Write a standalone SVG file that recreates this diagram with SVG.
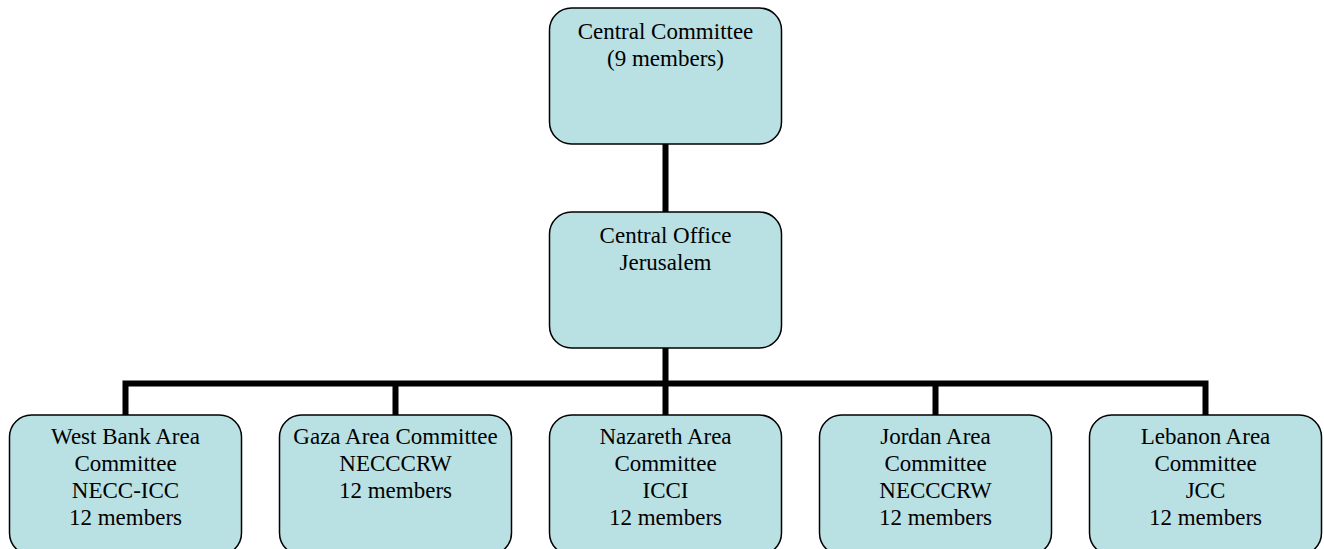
<svg xmlns="http://www.w3.org/2000/svg" width="1324" height="549" viewBox="0 0 1324 549">
<style>
.box{fill:#B9E0E3;stroke:#000;stroke-width:1.5}
.t{font-family:"Liberation Serif","Times New Roman",serif;font-size:23px;fill:#000;text-anchor:middle}
.c{fill:none;stroke:#000;stroke-width:6;stroke-linecap:butt;stroke-linejoin:miter}
</style>
<rect width="1324" height="549" fill="#fff"/>
<g id="connectors">
<path class="c" d="M665.5 144V212M665.5 348V383.5M125.5 415V383.5H1205.5V415M395.5 383.5V415M665.5 383.5V415M935.5 383.5V415"/>
</g>
<g id="central-committee">
<rect class="box" x="549.5" y="8" width="232" height="136" rx="22"/>
<text class="t" x="665.5" y="39">Central Committee</text>
<text class="t" x="665.5" y="66">(9 members)</text>
</g>
<g id="central-office">
<rect class="box" x="549.5" y="212" width="232" height="136" rx="22"/>
<text class="t" x="665.5" y="243">Central Office</text>
<text class="t" x="665.5" y="270">Jerusalem</text>
</g>
<g id="west-bank">
<rect class="box" x="9.5" y="415" width="232" height="140" rx="22"/>
<text class="t" x="125.5" y="444">West Bank Area</text>
<text class="t" x="125.5" y="471">Committee</text>
<text class="t" x="125.5" y="498">NECC-ICC</text>
<text class="t" x="125.5" y="525">12 members</text>
</g>
<g id="gaza">
<rect class="box" x="279.5" y="415" width="232" height="140" rx="22"/>
<text class="t" x="395.5" y="444">Gaza Area Committee</text>
<text class="t" x="395.5" y="471">NECCCRW</text>
<text class="t" x="395.5" y="498">12 members</text>
</g>
<g id="nazareth">
<rect class="box" x="549.5" y="415" width="232" height="140" rx="22"/>
<text class="t" x="665.5" y="444">Nazareth Area</text>
<text class="t" x="665.5" y="471">Committee</text>
<text class="t" x="665.5" y="498">ICCI</text>
<text class="t" x="665.5" y="525">12 members</text>
</g>
<g id="jordan">
<rect class="box" x="819.5" y="415" width="232" height="140" rx="22"/>
<text class="t" x="935.5" y="444">Jordan Area</text>
<text class="t" x="935.5" y="471">Committee</text>
<text class="t" x="935.5" y="498">NECCCRW</text>
<text class="t" x="935.5" y="525">12 members</text>
</g>
<g id="lebanon">
<rect class="box" x="1089.5" y="415" width="232" height="140" rx="22"/>
<text class="t" x="1205.5" y="444">Lebanon Area</text>
<text class="t" x="1205.5" y="471">Committee</text>
<text class="t" x="1205.5" y="498">JCC</text>
<text class="t" x="1205.5" y="525">12 members</text>
</g>
</svg>
